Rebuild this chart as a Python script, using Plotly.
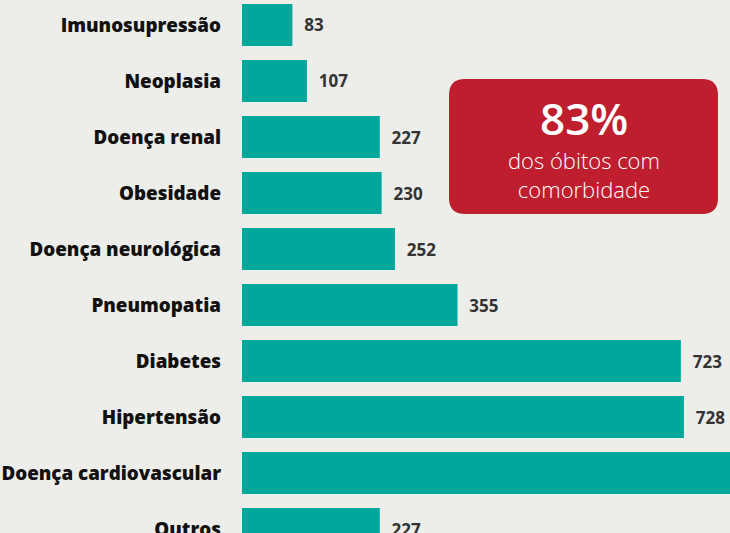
import plotly.graph_objects as go

# Óbitos por comorbidade
categorias = ['Imunosupressão', 'Neoplasia', 'Doença renal', 'Obesidade',
              'Doença neurológica', 'Pneumopatia', 'Diabetes', 'Hipertensão',
              'Doença cardiovascular', 'Outros']
obitos = [83, 107, 227, 230, 252, 355, 723, 728, 1100, 227]
# o valor de doença cardiovascular fica fora do recorte da imagem
rotulos = ['  ' + str(v) for v in obitos]
rotulos[8] = ''

destaque_valor = '83%'
destaque_texto = ['dos óbitos com', 'comorbidade']

bar_color = '#00A79B'
bg_color = '#EDEDEA'
red_color = '#BE1E2D'

W, H = 730, 533
left = 242


def px_x(px):
    return (px - left) / (W - left)


def px_y(py):
    return 1 - py / H


fig = go.Figure()
fig.add_trace(go.Bar(
    x=obitos,
    y=categorias,
    orientation='h',
    marker=dict(color=bar_color, line=dict(width=0)),
    text=rotulos,
    textposition='outside',
    textfont=dict(family='Open Sans', size=17, color='#333333', weight='bold'),
    cliponaxis=False,
    width=0.75,
))

# caixa vermelha com cantos arredondados
x0, x1, y0, y1, r = 449, 718, 79, 214, 16
path = (f'M {px_x(x0 + r)} {px_y(y0)} L {px_x(x1 - r)} {px_y(y0)} '
        f'Q {px_x(x1)} {px_y(y0)} {px_x(x1)} {px_y(y0 + r)} '
        f'L {px_x(x1)} {px_y(y1 - r)} '
        f'Q {px_x(x1)} {px_y(y1)} {px_x(x1 - r)} {px_y(y1)} '
        f'L {px_x(x0 + r)} {px_y(y1)} '
        f'Q {px_x(x0)} {px_y(y1)} {px_x(x0)} {px_y(y1 - r)} '
        f'L {px_x(x0)} {px_y(y0 + r)} '
        f'Q {px_x(x0)} {px_y(y0)} {px_x(x0 + r)} {px_y(y0)} Z')
fig.add_shape(type='path', path=path, xref='paper', yref='paper',
              fillcolor=red_color, line=dict(width=0), layer='above')

cx = px_x((x0 + x1) / 2)
fig.add_annotation(x=cx, y=px_y(118), xref='paper', yref='paper',
                   xanchor='center', yanchor='middle',
                   text=destaque_valor, showarrow=False,
                   font=dict(family='Open Sans', size=44, color='white',
                             weight=600))
fig.add_annotation(x=cx, y=px_y(174), xref='paper', yref='paper',
                   xanchor='center', yanchor='middle',
                   text='<br>'.join(destaque_texto), showarrow=False,
                   font=dict(family='Open Sans', size=22, color='white',
                             weight=300))

fig.update_layout(
    width=W, height=H,
    margin=dict(l=left, r=0, t=0, b=0),
    paper_bgcolor=bg_color,
    plot_bgcolor=bg_color,
    showlegend=False,
    xaxis=dict(range=[0, (W - left) / 0.607], visible=False,
               showgrid=False, zeroline=False, automargin=False),
    yaxis=dict(range=[9.07, -0.446], showgrid=False, zeroline=False,
               ticks='', ticklabelstandoff=20, automargin=False,
               tickfont=dict(family='Open Sans', size=18.8, color='#111111',
                             weight=800)),
)

fig.write_html('out.html', config={'displayModeBar': False},
               post_script="document.body.style.margin='0';")
